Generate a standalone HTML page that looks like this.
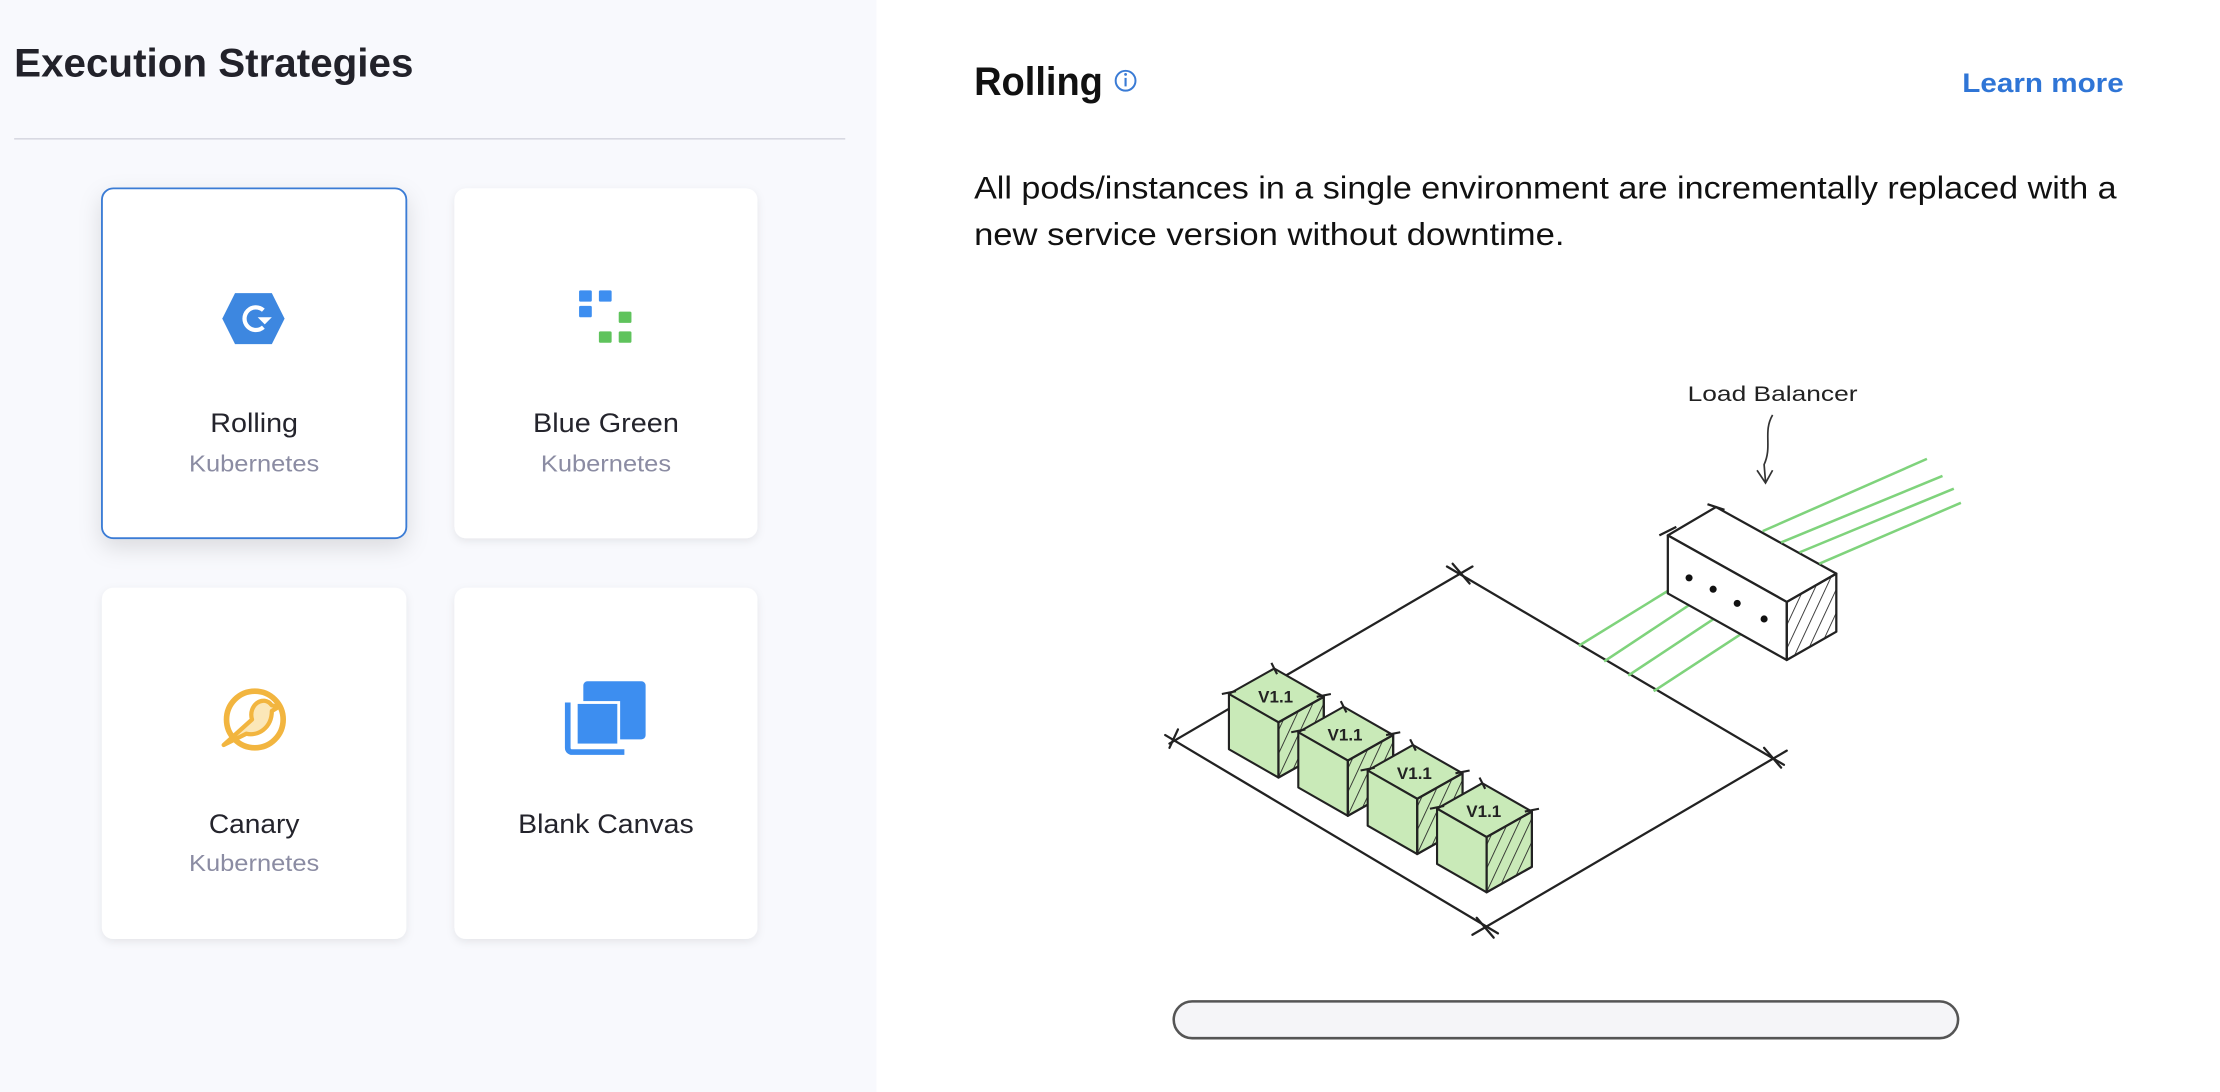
<!DOCTYPE html>
<html><head><meta charset="utf-8"><style>
html,body{margin:0;padding:0;width:2220px;height:1092px;overflow:hidden;background:#fff}
svg{display:block}
text{font-family:"Liberation Sans",Arial,sans-serif}
</style></head><body>
<svg width="2220" height="1092" viewBox="0 0 1568 771" preserveAspectRatio="none" xmlns="http://www.w3.org/2000/svg">
<defs>
<filter id="sh" x="-20%" y="-20%" width="140%" height="140%"><feDropShadow dx="0" dy="2" stdDeviation="3" flood-color="#000" flood-opacity="0.08"/></filter>
<filter id="sh2" x="-20%" y="-20%" width="140%" height="140%"><feDropShadow dx="0" dy="6" stdDeviation="8" flood-color="#000" flood-opacity="0.12"/></filter>
<pattern id="hatch" width="7" height="7" patternUnits="userSpaceOnUse" patternTransform="rotate(25)"><line x1="0" y1="0" x2="0" y2="7" stroke="#222" stroke-width="1.2"/></pattern>
</defs>
<rect x="0" y="0" width="619" height="771" fill="#f8f9fd"/>
<text x="10" y="54" font-size="28" font-weight="bold" fill="#22222a" textLength="282" lengthAdjust="spacingAndGlyphs">Execution Strategies</text>
<line x1="10" y1="98" x2="597" y2="98" stroke="#d8d9e2" stroke-width="1.2"/>

<!-- cards -->
<rect x="72" y="133" width="215" height="247" rx="8" fill="#fff" stroke="#3a7bd5" stroke-width="1.3" filter="url(#sh2)"/>
<rect x="321" y="133" width="214" height="247" rx="8" fill="#fff" filter="url(#sh)"/>
<rect x="72" y="415" width="215" height="248" rx="8" fill="#fff" filter="url(#sh)"/>
<rect x="321" y="415" width="214" height="248" rx="8" fill="#fff" filter="url(#sh)"/>

<!-- rolling icon -->
<polygon points="166,207 192,207 201,225 192,243 166,243 157,225" fill="#3d87e0"/>
<path d="M186,219 A8,8 0 1 0 186,231" fill="none" stroke="#fff" stroke-width="3"/>
<path d="M182,224 h10 l-5,5 z" fill="#fff"/>
<text x="179.5" y="305" font-size="19" fill="#24242c" text-anchor="middle" textLength="62" lengthAdjust="spacingAndGlyphs">Rolling</text>
<text x="179.5" y="333" font-size="16" fill="#8b8ca3" text-anchor="middle" textLength="92" lengthAdjust="spacingAndGlyphs">Kubernetes</text>

<!-- blue green icon -->
<rect x="409" y="205" width="9" height="8" rx="1" fill="#3d8ef0"/>
<rect x="423" y="205" width="9" height="8" rx="1" fill="#3d8ef0"/>
<rect x="409" y="216" width="9" height="8" rx="1" fill="#3d8ef0"/>
<rect x="437" y="220" width="9" height="8" rx="1" fill="#5fc35c"/>
<rect x="423" y="234" width="9" height="8" rx="1" fill="#5fc35c"/>
<rect x="437" y="234" width="9" height="8" rx="1" fill="#5fc35c"/>
<text x="428" y="305" font-size="19" fill="#24242c" text-anchor="middle" textLength="103" lengthAdjust="spacingAndGlyphs">Blue Green</text>
<text x="428" y="333" font-size="16" fill="#8b8ca3" text-anchor="middle" textLength="92" lengthAdjust="spacingAndGlyphs">Kubernetes</text>

<!-- canary icon -->
<circle cx="180" cy="508" r="20" fill="none" stroke="#f2b53f" stroke-width="4"/>
<path d="M158,526 L178,508 C175,498 186,490 192,498 L197,499 L192,502 C192,514 182,520 174,518 Z" fill="#fbe7b8" stroke="#f2b53f" stroke-width="3" stroke-linejoin="round"/>
<text x="179.5" y="588" font-size="19" fill="#24242c" text-anchor="middle" textLength="64" lengthAdjust="spacingAndGlyphs">Canary</text>
<text x="179.5" y="615" font-size="16" fill="#8b8ca3" text-anchor="middle" textLength="92" lengthAdjust="spacingAndGlyphs">Kubernetes</text>

<!-- blank canvas icon -->
<path d="M401,496 v32 a3,3 0 0 0 3,3 h37" fill="none" stroke="#3d8ef0" stroke-width="4"/>
<rect x="412" y="481" width="44" height="41" rx="3" fill="#3d8ef0"/>
<rect x="407" y="496" width="30" height="30" fill="#3d8ef0" stroke="#fff" stroke-width="2"/>
<text x="428" y="588" font-size="19" fill="#24242c" text-anchor="middle" textLength="124" lengthAdjust="spacingAndGlyphs">Blank Canvas</text>

<!-- right header -->
<text x="688" y="67" font-size="28" font-weight="bold" fill="#111" textLength="91" lengthAdjust="spacingAndGlyphs">Rolling</text>
<circle cx="795" cy="57" r="7" fill="none" stroke="#3a7bd5" stroke-width="1.4"/>
<line x1="795" y1="55" x2="795" y2="61" stroke="#3a7bd5" stroke-width="1.5"/>
<circle cx="795" cy="52.5" r="1" fill="#3a7bd5"/>
<text x="1500" y="65" font-size="19" font-weight="bold" fill="#2f75d6" text-anchor="end" textLength="114" lengthAdjust="spacingAndGlyphs">Learn more</text>
<text x="688" y="140" font-size="22" fill="#111" textLength="807" lengthAdjust="spacingAndGlyphs">All pods/instances in a single environment are incrementally replaced with a</text>
<text x="688" y="173" font-size="22" fill="#111" textLength="417" lengthAdjust="spacingAndGlyphs">new service version without downtime.</text>

<!-- diagram -->
<g stroke="#222" stroke-width="1.6" fill="none" stroke-linecap="round">
 <line x1="826" y1="525" x2="1040" y2="400"/>
 <line x1="1022" y1="400" x2="1260" y2="540"/>
 <line x1="1262" y1="530" x2="1040" y2="660"/>
 <line x1="823" y1="519" x2="1058" y2="659"/>
 <line x1="1026" y1="398" x2="1038" y2="412"/>
 <line x1="1246" y1="528" x2="1258" y2="542"/>
 <line x1="1043" y1="648" x2="1055" y2="662"/>
 <line x1="832" y1="515" x2="826" y2="528"/>
</g>

<g stroke="#7fd37c" stroke-width="1.8" fill="none">
 <line x1="1193" y1="408" x2="1115" y2="456"/>
 <line x1="1210" y1="416" x2="1133" y2="467"/>
 <line x1="1227" y1="426" x2="1150" y2="477"/>
 <line x1="1246" y1="437" x2="1168" y2="488"/>
</g>

<g stroke="#222" stroke-width="1.6" stroke-linejoin="round">
 <polygon points="1178,378 1212,358 1297,405 1262,425" fill="#fff"/>
 <polygon points="1178,378 1262,425 1262,466 1178,419" fill="#fff"/>
 <polygon points="1262,425 1297,405 1297,446 1262,466" fill="url(#hatch)"/>
 <line x1="1172" y1="378" x2="1184" y2="372"/>
 <line x1="1206" y1="356" x2="1218" y2="360"/>
</g>
<g stroke="#7fd37c" stroke-width="1.8">
 <line x1="1245" y1="375" x2="1361" y2="324"/>
 <line x1="1258" y1="383" x2="1372" y2="336"/>
 <line x1="1271" y1="390" x2="1380" y2="345"/>
 <line x1="1285" y1="398" x2="1385" y2="355"/>
</g>
<g fill="#111"><circle cx="1193" cy="408" r="2.5"/><circle cx="1210" cy="416" r="2.5"/><circle cx="1227" cy="426" r="2.5"/><circle cx="1246" cy="437" r="2.5"/></g>
<text x="1192" y="283" font-size="15" fill="#222" font-family="'Liberation Sans Narrow','Liberation Sans',sans-serif" textLength="120" lengthAdjust="spacingAndGlyphs">Load Balancer</text>
<path d="M1252,293 C1245,305 1252,315 1246,328 L1247,340" fill="none" stroke="#333" stroke-width="1.2"/>
<path d="M1241,332 L1247,341 L1252,332" fill="none" stroke="#333" stroke-width="1.2"/>

<g id="pod">
 <g stroke="#222" stroke-width="1.5" stroke-linejoin="round">
  <polygon points="868,490 900,472 935,492 903,510" fill="#c9eab8"/>
  <polygon points="868,490 903,510 903,549 868,529" fill="#c9eab8"/>
  <polygon points="903,510 935,492 935,531 903,549" fill="#c9eab8"/>
  <polygon points="903,510 935,492 935,531 903,549" fill="url(#hatch)"/>
  <line x1="863" y1="490" x2="873" y2="488"/><line x1="898" y1="468" x2="902" y2="476"/><line x1="930" y1="492" x2="940" y2="490"/>
 </g>
 <text x="901" y="496" font-size="12" font-weight="bold" fill="#222" text-anchor="middle">V1.1</text>
</g>
<use href="#pod" transform="translate(49,27)"/>
<use href="#pod" transform="translate(98,54)"/>
<use href="#pod" transform="translate(147,81)"/>

<rect x="829" y="707" width="554" height="26" rx="13" fill="#f5f5f8" stroke="#555" stroke-width="1.8"/>
</svg>
</body></html>
